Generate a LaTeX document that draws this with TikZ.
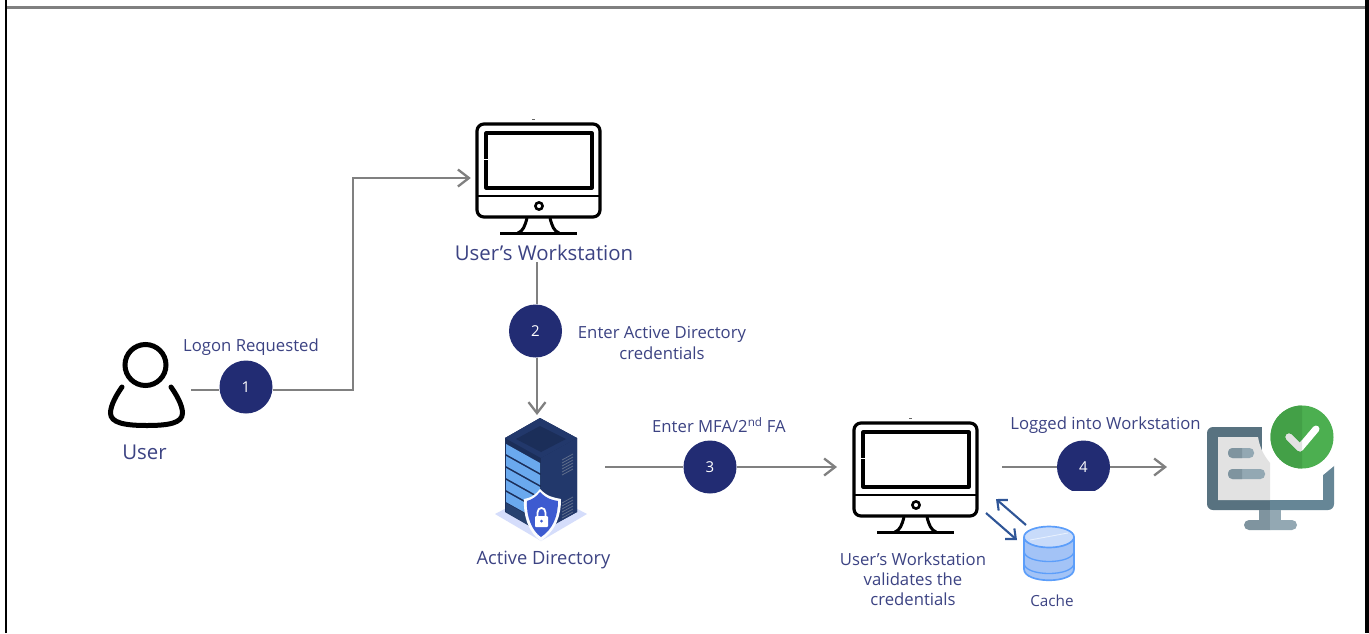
\documentclass[tikz,border=0pt]{standalone}
\usepackage{fontspec}
\setmainfont{Open Sans}
\usetikzlibrary{arrows.meta,calc}
\definecolor{navy}{HTML}{222C73}
\definecolor{lab}{HTML}{3C4383}
\definecolor{conn}{HTML}{808080}
\definecolor{rackd}{HTML}{1B2E59}
\definecolor{rackm}{HTML}{22386B}
\definecolor{slot}{HTML}{6AA9EE}
\definecolor{shield}{HTML}{3D5BD0}
\definecolor{plate}{HTML}{D5DDFB}
\definecolor{dbb}{HTML}{5C9EFA}
\definecolor{dbf}{HTML}{A3C3F6}
\definecolor{cachec}{HTML}{2F5597}
\definecolor{mon}{HTML}{668696}
\definecolor{mond}{HTML}{587280}
\definecolor{monl}{HTML}{E2E2E2}
\definecolor{standl}{HTML}{93A8B3}
\definecolor{standd}{HTML}{7F949F}
\definecolor{okg}{HTML}{4CAF50}
\definecolor{okd}{HTML}{43A047}
\tikzset{
 x=1pt,y=-1pt,
 conn/.style={draw=conn,line width=2.3pt},
 tipped/.style={conn,-{Straight Barb[length=11pt,width=17pt,line width=2.3pt]}},
 badge/.style={circle,fill=navy,text=white,minimum size=53pt,inner sep=0pt,font=\fontsize{15}{15}\selectfont},
 lbl/.style={text=lab,align=center,inner sep=0pt,font=\fontsize{16.7}{20.2}\selectfont},
 big/.style={lbl,font=\fontsize{20.4}{24}\selectfont},
 blk/.style={draw=black,line width=3.2pt,line join=round},
 cachearrow/.style={draw=cachec,line width=2.1pt,-{Straight Barb[length=8pt,width=14pt,line width=2.1pt]}},
 anchorbox/.style={inner sep=0pt,minimum size=0pt},
 pics/workstation/.style={code={
   \draw[blk,rounded corners=7pt] (0,0) rectangle (123,93);
   \draw[blk] (9,9) rectangle (115,64);
   \fill[white] (7,35) rectangle (11,36);
   \draw[blk,line width=2.8pt] (0,72) -- (123,72);
   \draw[blk,line width=2.6pt] (62,82) circle (3.6);
   \draw[blk,line width=3pt] (50,94) .. controls (48,102) and (46,107) .. (41,109);
   \draw[blk,line width=3pt] (73,94) .. controls (75,102) and (77,107) .. (82,109);
   \draw[blk,line width=3pt] (23,109.5) -- (100,109.5);
   \fill[black!60] (55,-5.5) rectangle (58,-4.5);
 }}
}
\begin{document}
\begin{tikzpicture}
\useasboundingbox (0,0) rectangle (1369,633);
\fill[white] (0,0) rectangle (1369,633);
% outer frame
\draw[black,line width=2.2pt] (6,633) -- (6,0);
\draw[black,line width=4pt] (1367,0) -- (1367,633);
\draw[black!50,line width=3pt] (7,7) -- (1365,7);

% named icon anchors
\node[anchorbox,minimum width=135pt,minimum height=110pt] (ws1) at (538.5,178) {};
\node[anchorbox,minimum width=123pt,minimum height=110pt] (ws2) at (915.5,477) {};
\node[anchorbox] (ad) at (541,480) {};
\node[anchorbox] (user) at (146,386) {};
\node[anchorbox] (done) at (1270,467) {};
\node[anchorbox] (db) at (1049,554) {};

\pic at (477,124) {workstation};
\pic at (854,423) {workstation};

% user
\draw[black,line width=5pt] (145.5,365) circle (20.5);
\draw[black,line width=5pt,line cap=round] (122,387) .. controls (117,394) and (110.5,405) .. (110.5,413) .. controls (110.5,423) and (125,425.5) .. (147,425.5) .. controls (169,425.5) and (182.5,423) .. (182.5,413) .. controls (182.5,405) and (176,394) .. (171,387);

% server rack
\fill[plate] (495,514) -- (541,490) -- (587,514) -- (541,541) -- cycle;
\fill[rackd] (505,438) -- (540,418) -- (577,438) -- (577,512) -- (540,532) -- (505,512) -- cycle;
\fill[rackm] (541,458) -- (577,438) -- (577,512) -- (541,532) -- cycle;
\fill[rackm] (505,438) -- (540,418) -- (577,438) -- (541,458) -- cycle;
\fill[rackd] (516,439) -- (540,426) -- (566,439) -- (541,452) -- cycle;
\foreach \yy in {0,12,24,36,48}{
  \fill[slot] (506,444+\yy) -- (540,463+\yy) -- (540,473+\yy) -- (506,454+\yy) -- cycle;
}
\fill[rackd!85!slot] (506,503) -- (540,522) -- (540,532) -- (506,512) -- cycle;
\foreach \yy in {0,3,6,9,12,15}{
  \draw[rackd!70!white,line width=.8pt] (562,460+\yy) -- (573,454+\yy);
  \draw[rackd!70!white,line width=.8pt] (562,503+\yy) -- (573,497+\yy);
}
\fill[white!90!plate] (540,489) .. controls (548,497) and (552,497) .. (561,499) .. controls (561,516) and (556,530) .. (541,541) .. controls (530,534) and (523,518) .. (524,499) .. controls (531,498) and (535,495) .. (540,489) -- cycle;
\fill[shield] (540,492) .. controls (547,499) and (552,500) .. (558,501) .. controls (558,516) and (553,529) .. (541,537) .. controls (532,531) and (526,516) .. (527,501) .. controls (533,499) and (536,497) .. (540,492) -- cycle;
\fill[white,rounded corners=1pt] (535,516) rectangle (548,527);
\draw[white,line width=1.8pt] (537.5,517) -- (537.5,512.5) .. controls (537.5,506.5) and (545.5,506.5) .. (545.5,512.5) -- (545.5,517);
\fill[shield] (541.5,521) circle (1.5);

% cache cylinder
\fill[dbf] (1024,537) -- (1024,569) .. controls (1024,584) and (1074,584) .. (1074,569) -- (1074,537) -- cycle;
\draw[dbb,line width=1.3pt] (1024,551) .. controls (1024,565) and (1074,565) .. (1074,551);
\draw[dbb,line width=1.3pt] (1024,563) .. controls (1024,577) and (1074,577) .. (1074,563);
\draw[dbb,line width=1.7pt] (1024,537) -- (1024,569) .. controls (1024,584) and (1074,584) .. (1074,569) -- (1074,537);
\fill[dbf!60!white,draw=dbb,line width=1.7pt] (1049,537) ellipse (25 and 10.5);
\draw[white!85!dbb,line width=.9pt] (1030,540) -- (1068,533);

% done monitor
\begin{scope}
 \clip (1200,420) rectangle (1270,515);
 \fill[mond,rounded corners=6pt] (1207,427) rectangle (1334,510);
\end{scope}
\begin{scope}
 \clip (1270,420) rectangle (1340,515);
 \fill[mon,rounded corners=6pt] (1207,427) rectangle (1334,510);
\end{scope}
\fill[white] (1270,436) rectangle (1323,500);
\fill[white] (1262,420) -- (1340,420) -- (1340,461) -- (1323,475) -- (1262,475) -- cycle;
\fill[monl] (1218,437) -- (1258,437) .. controls (1260,450) and (1266,458) .. (1270,463) -- (1270,500) -- (1218,500) -- cycle;
\fill[standd] (1259,510) rectangle (1270,521);
\fill[standl] (1270,510) rectangle (1281,521);
\begin{scope}
 \clip (1240,515) rectangle (1270,535);
 \fill[standd,rounded corners=5pt] (1244,520) rectangle (1297,530);
\end{scope}
\begin{scope}
 \clip (1270,515) rectangle (1300,535);
 \fill[standl,rounded corners=5pt] (1244,520) rectangle (1297,530);
\end{scope}
\fill[standl,rounded corners=4.5pt] (1228,448) rectangle (1254,458);
\fill[standl,rounded corners=4.5pt] (1228,469) rectangle (1265,479);
\begin{scope}
 \clip (1225,445) rectangle (1242,482);
 \fill[standd,rounded corners=4.5pt] (1228,448) rectangle (1254,458);
 \fill[standd,rounded corners=4.5pt] (1228,469) rectangle (1265,479);
\end{scope}
\fill[white] (1302,438) circle (35);
\fill[okg] (1302,437) circle (31.5);
\begin{scope}
 \clip (1270,400) rectangle (1302,475);
 \fill[okd] (1302,437) circle (31.5);
\end{scope}
\draw[white,line width=7pt,line cap=round,line join=round] (1289,437) -- (1300,448) -- (1316,429);
\begin{scope}
 \clip (1270,400) rectangle (1302,475);
 \draw[monl,line width=7pt,line cap=round,line join=round] (1289,437) -- (1300,448) -- (1316,429);
\end{scope}

% badges
\node[badge] (b1) at (246,387) {1};
\node[badge] (b2) at (535.5,331) {2};
\node[badge] (b3) at (710,467) {3};
\begin{scope}
 \clip (1050,430) rectangle (1120,490);
 \node[badge] (b4) at (1083.5,467) {4};
\end{scope}

% connectors
\coordinate (u1) at (191,390);
\coordinate (elbow) at (353,390);
\draw[conn] (u1) -- (b1.west|-u1);
\draw[tipped] (b1.east|-u1) -- (elbow) |- (ws1.west);
\coordinate (w1b) at (537,262);
\coordinate (adt) at (537,415);
\draw[conn] (w1b) -- (w1b|-b2.north);
\draw[tipped] (adt|-b2.south) -- (adt);
\coordinate (a3) at (605,467);
\coordinate (t3) at (837,467);
\draw[conn] (a3) -- (b3.west);
\draw[tipped] (b3.east) -- (t3);
\coordinate (a4) at (1002,467);
\coordinate (t4) at (1167,467);
\draw[conn] (a4) -- (b4.west);
\draw[tipped] (b4.east) -- (t4);
\coordinate (ca1) at (1026,525); \coordinate (ca2) at (996,499);
\coordinate (cb1) at (986,513); \coordinate (cb2) at (1017,540);
\draw[cachearrow] (ca1) -- (ca2);
\draw[cachearrow] (cb1) -- (cb2);

% labels
\node[lbl] (l1) at (251,347) {Logon Requested};
\node[big] (l0) at (144.5,452) {User};
\node[big] (l2) at (544,253) {User’s Workstation};
\node[lbl] (l3) at (662,343) {Enter Active Directory\\credentials};
\node[lbl,font=\fontsize{18.3}{22}\selectfont] (l4) at (543.5,560) {Active Directory};
\node[lbl] (l5) at (719,425) {Enter MFA/2\textsuperscript{nd} FA};
\node[lbl] (l6) at (1105.5,425) {Logged into Workstation};
\node[lbl] (l7) at (913,579.5) {User’s Workstation\\validates the\\credentials};
\node[lbl,font=\fontsize{15.3}{18}\selectfont] (l8) at (1052,600.5) {Cache};
\end{tikzpicture}
\end{document}
